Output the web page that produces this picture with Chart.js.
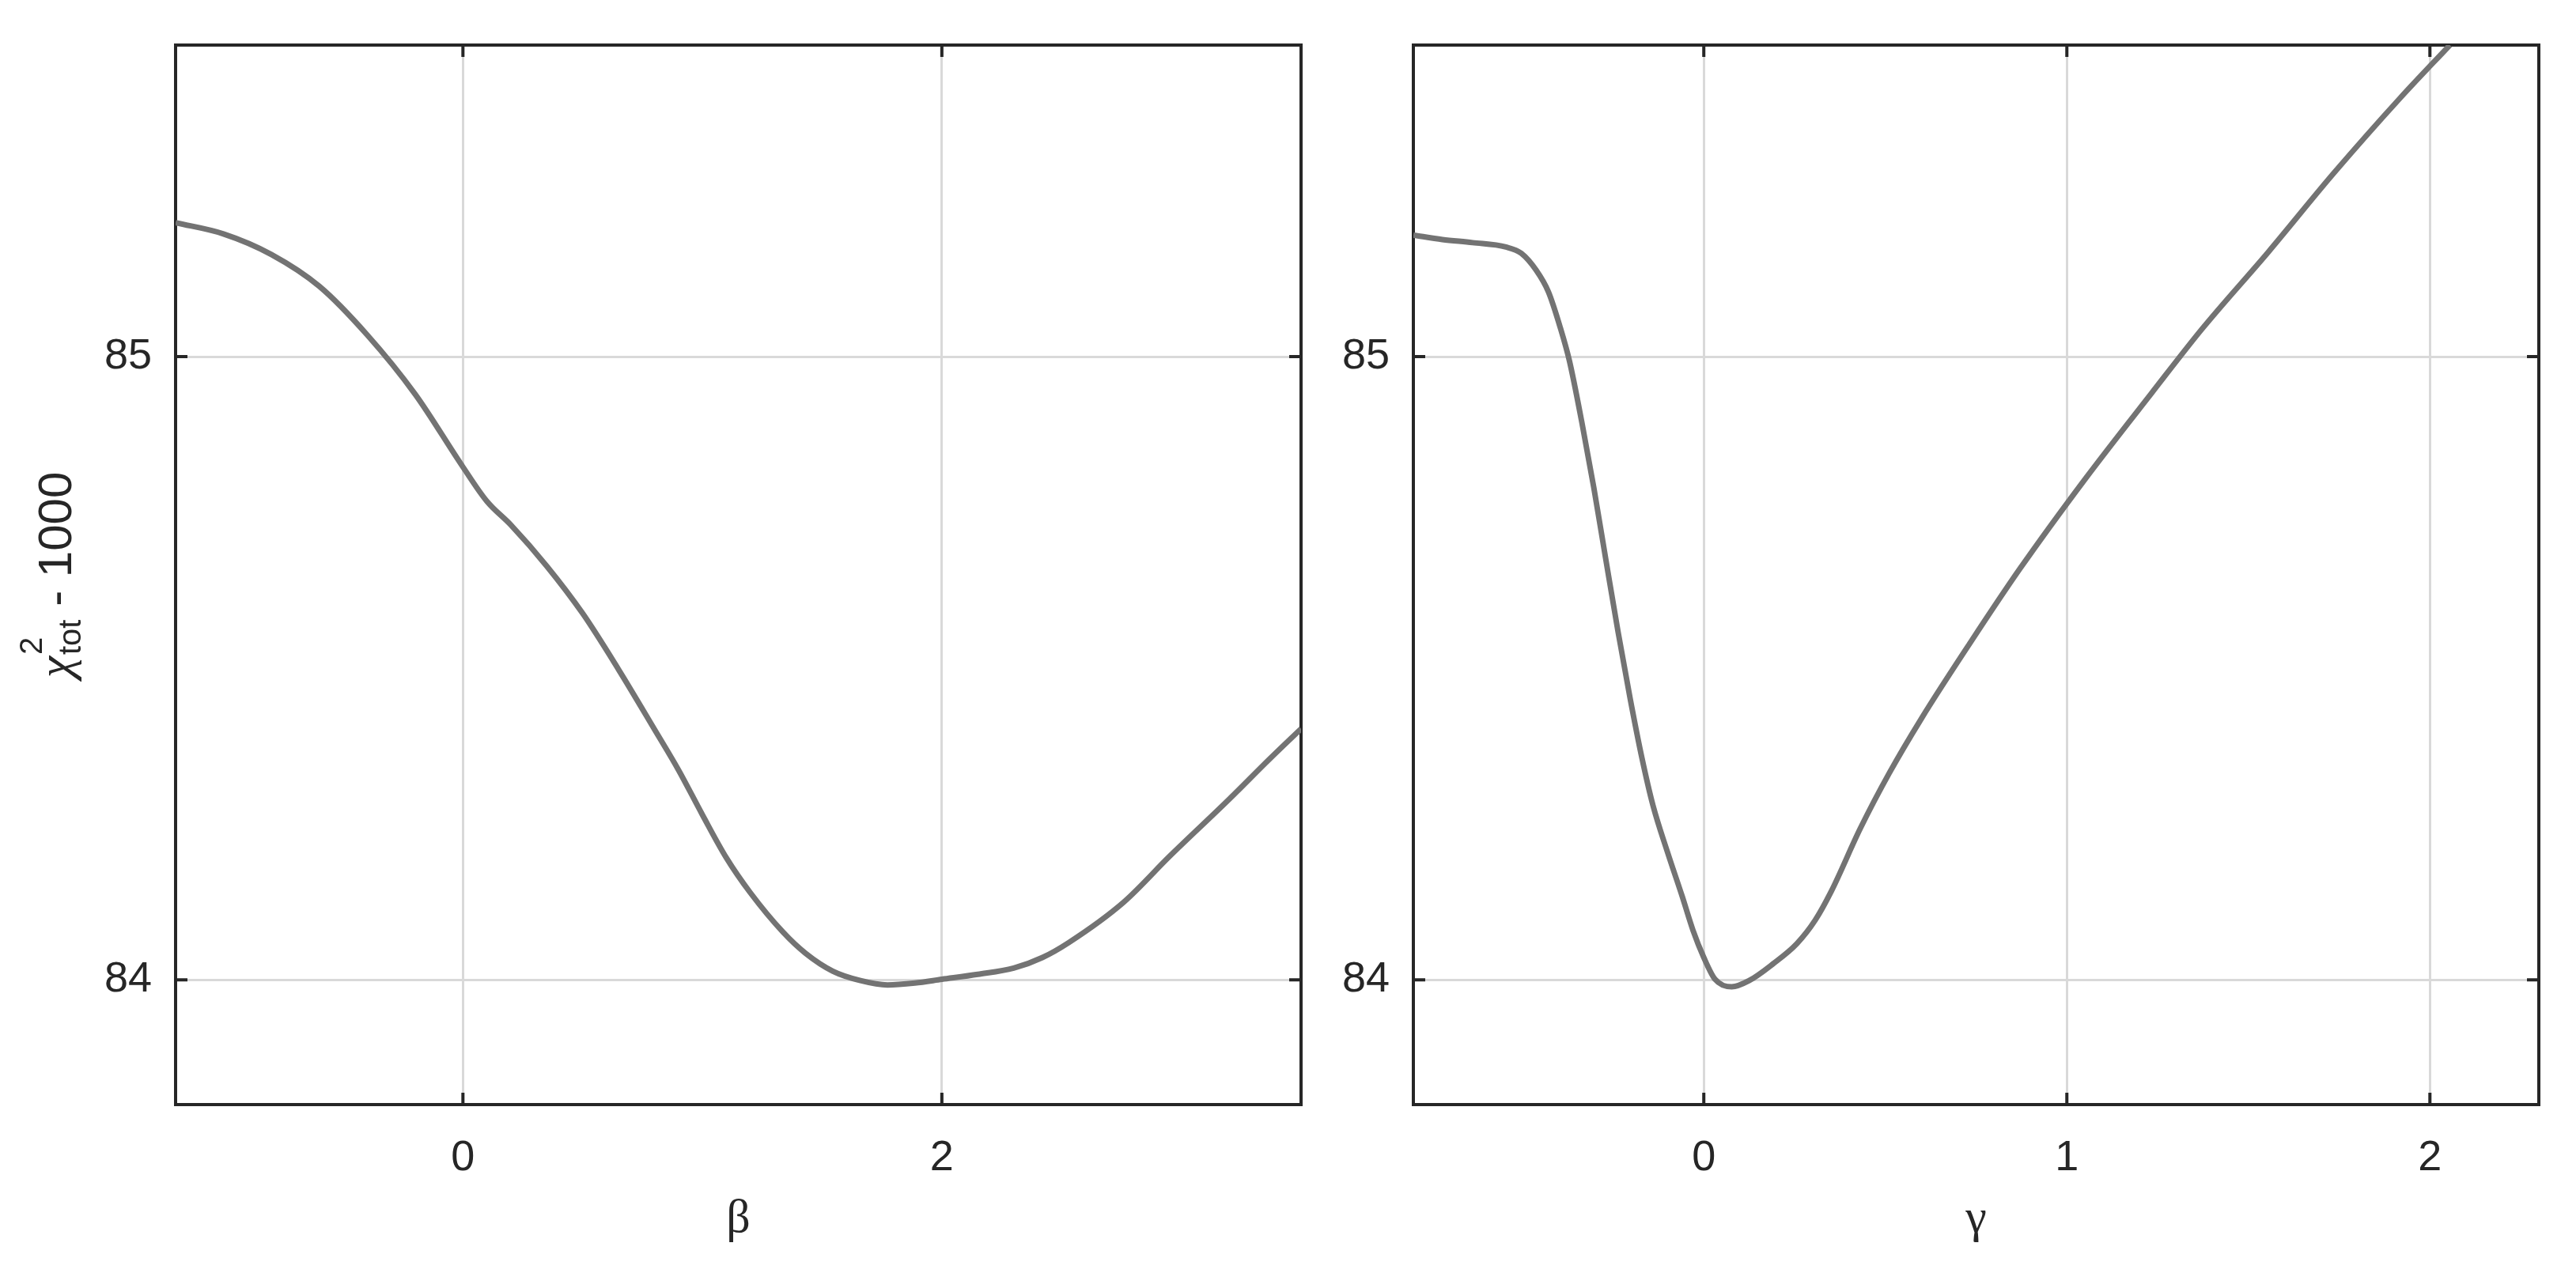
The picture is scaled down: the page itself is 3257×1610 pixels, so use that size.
<!DOCTYPE html>
<html>
<head>
<meta charset="utf-8">
<script src="https://cdn.jsdelivr.net/npm/chart.js@4.4.1/dist/chart.umd.min.js"></script>
<style>
  html, body { margin: 0; padding: 0; background: #fff; }
  #wrap { position: relative; width: 3257px; height: 1610px; }
  canvas { position: absolute; top: 0; }
  #chartBeta { left: 0; }
  #chartGamma { left: 1670px; }
</style>
</head>
<body>
<div id="wrap">
  <canvas id="chartBeta" width="1670" height="1610"></canvas>
  <canvas id="chartGamma" width="1587" height="1610"></canvas>
</div>
<script>
// Datos
const beta = [-1.2, -1.0, -0.8, -0.6, -0.4, -0.2, 0, 0.1, 0.2, 0.35, 0.5, 0.65, 0.8, 0.9, 1.0, 1.1, 1.2, 1.336, 1.43, 1.545, 1.66, 1.773, 1.887, 2.0, 2.15, 2.3, 2.42, 2.53, 2.76, 2.95, 3.2, 3.37, 3.5];
const chiBeta = [85.215, 85.197, 85.164, 85.113, 85.035, 84.94, 84.823, 84.768, 84.73, 84.664, 84.588, 84.498, 84.402, 84.337, 84.265, 84.196, 84.14, 84.077, 84.043, 84.014, 83.999, 83.992, 83.995, 84.001, 84.009, 84.019, 84.036, 84.06, 84.125, 84.198, 84.29, 84.355, 84.403];

const gamma = [-0.8, -0.72, -0.637, -0.545, -0.503, -0.462, -0.428, -0.395, -0.37, -0.336, -0.303, -0.27, -0.236, -0.203, -0.17, -0.14, -0.1, -0.06, -0.03, 0, 0.031, 0.077, 0.125, 0.191, 0.256, 0.307, 0.351, 0.431, 0.511, 0.6, 0.735, 0.871, 1.052, 1.234, 1.373, 1.555, 1.736, 1.918, 2.055];
const chiGamma = [85.195, 85.188, 85.183, 85.176, 85.166, 85.139, 85.104, 85.046, 84.993, 84.895, 84.79, 84.675, 84.558, 84.452, 84.355, 84.28, 84.205, 84.135, 84.08, 84.036, 84.001, 83.989, 83.999, 84.026, 84.058, 84.096, 84.142, 84.243, 84.332, 84.42, 84.542, 84.66, 84.805, 84.942, 85.045, 85.168, 85.295, 85.415, 85.5];

const betaTicks = [0, 2];
const gammaTicks = [0, 1, 2];
const chiTicks = [84, 85];

const INK = "#262626";

// Marco y marcas hacia dentro (estilo MATLAB)
const framePlugin = {
    id: "frame",
    beforeDatasetsDraw(chart) {
        const { ctx, chartArea: a, scales: { x, y } } = chart;
        ctx.save();
        ctx.strokeStyle = INK;
        ctx.lineWidth = 4;
        ctx.beginPath();
        x.ticks.forEach(t => {
            const px = x.getPixelForValue(t.value);
            ctx.moveTo(px, a.bottom); ctx.lineTo(px, a.bottom - 15);
            ctx.moveTo(px, a.top); ctx.lineTo(px, a.top + 15);
        });
        y.ticks.forEach(t => {
            const py = y.getPixelForValue(t.value);
            ctx.moveTo(a.left, py); ctx.lineTo(a.left + 15, py);
            ctx.moveTo(a.right, py); ctx.lineTo(a.right - 15, py);
        });
        ctx.stroke();
        ctx.strokeRect(a.left, a.top, a.width, a.height);
        ctx.restore();
    }
};

// Título del eje Y con superíndice y subíndice
const yTitlePlugin = {
    id: "yTitle",
    afterDraw(chart) {
        const { ctx, chartArea: a } = chart;
        const cy = (a.top + a.bottom) / 2;
        const chiFont = 'italic 62px "Liberation Serif"';
        const smallFont = '40px "Liberation Sans"';
        const bigFont = '60px "Liberation Sans"';
        ctx.save();
        ctx.translate(90, cy);
        ctx.rotate(-Math.PI / 2);
        ctx.fillStyle = INK;
        ctx.textAlign = "left";
        ctx.textBaseline = "alphabetic";
        ctx.font = chiFont;
        const wChi = ctx.measureText("χ").width;
        ctx.font = smallFont;
        const wSub = Math.max(ctx.measureText("2").width, ctx.measureText("tot").width);
        ctx.font = bigFont;
        const wRest = ctx.measureText(" - 1000").width;
        let x0 = -(wChi + 2 + wSub + wRest) / 2;
        ctx.font = chiFont;
        ctx.fillText("χ", x0, 0);
        x0 += wChi + 2;
        ctx.font = smallFont;
        ctx.fillText("2", x0, -37);
        ctx.fillText("tot", x0, 12);
        x0 += wSub;
        ctx.font = bigFont;
        ctx.fillText(" - 1000", x0, 0);
        ctx.restore();
    }
};

function createChart(id, xs, ys, xMin, xMax, xTicks, xLabel, yWidth, rightPad, extraPlugins) {
    const ctx = document.getElementById(id).getContext("2d");
    return new Chart(ctx, {
        type: "line",
        data: {
            datasets: [{
                data: xs.map((v, i) => ({ x: v, y: ys[i] })),
                borderColor: "#737373",
                borderWidth: 7,
                pointRadius: 0,
                fill: false,
                cubicInterpolationMode: "monotone"
            }]
        },
        options: {
            responsive: false,
            animation: false,
            layout: { padding: { top: 53, right: rightPad, bottom: 0, left: 0 } },
            plugins: { legend: { display: false }, tooltip: { enabled: false } },
            scales: {
                x: {
                    type: "linear",
                    min: xMin,
                    max: xMax,
                    afterBuildTicks: s => { s.ticks = xTicks.map(v => ({ value: v })); },
                    afterFit: s => { s.height = 213; },
                    border: { display: false },
                    grid: { color: "#d9d9d9", lineWidth: 3, drawTicks: false },
                    ticks: {
                        color: INK,
                        padding: 41,
                        maxRotation: 0,
                        autoSkip: false,
                        font: { family: "Liberation Sans", size: 54, lineHeight: 1 }
                    },
                    title: {
                        display: true,
                        text: xLabel,
                        color: INK,
                        font: { family: "Liberation Serif", size: 60, lineHeight: 1 },
                        padding: { top: 0, bottom: 38 }
                    }
                },
                y: {
                    type: "linear",
                    min: 83.8,
                    max: 85.5,
                    afterBuildTicks: s => { s.ticks = chiTicks.map(v => ({ value: v })); },
                    afterFit: s => { s.width = yWidth; },
                    border: { display: false },
                    grid: { color: "#d9d9d9", lineWidth: 3, drawTicks: false },
                    ticks: {
                        color: INK,
                        padding: 30,
                        font: { family: "Liberation Sans", size: 54, lineHeight: 1 }
                    }
                }
            }
        },
        plugins: [framePlugin].concat(extraPlugins)
    });
}

createChart("chartBeta", beta, chiBeta, -1.2, 3.5, betaTicks, "β", 222, 25, [yTitlePlugin]);
createChart("chartGamma", gamma, chiGamma, -0.8, 2.3, gammaTicks, "γ", 117, 47, []);
</script>
</body>
</html>
